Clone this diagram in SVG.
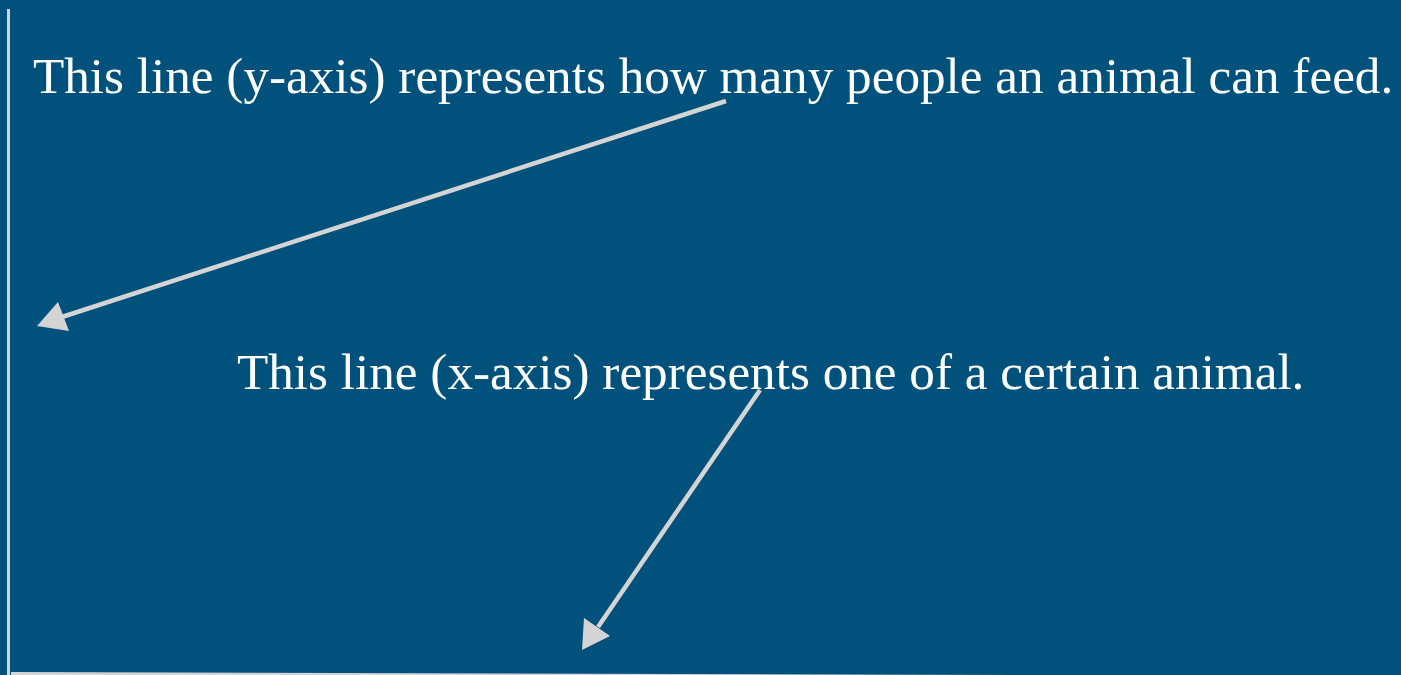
<svg xmlns="http://www.w3.org/2000/svg" width="1401" height="675" viewBox="0 0 1401 675">
<style>
.lbl{font-family:"Liberation Serif","Times New Roman",serif;font-size:51.2px;fill:#ffffff}
.axis{stroke:#d4d4d4;stroke-width:3;fill:none}
.conn{stroke:#d4d4d4;stroke-width:4.5;fill:none}
.head{fill:#d4d4d4}
</style>
<rect width="1401" height="675" fill="#00527c"/>
<g id="axes">
<line class="axis" x1="8.5" y1="9" x2="8.5" y2="675"/>
<line class="axis" x1="11" y1="673.5" x2="1400" y2="677.5"/>
</g>
<g id="label-y">
<text class="lbl" x="33" y="93">This line (y-axis) represents how many people an animal can feed.</text>
</g>
<g id="label-x">
<text class="lbl" x="237" y="389">This line (x-axis) represents one of a certain animal.</text>
</g>
<g id="connectors">
<line class="conn" x1="726" y1="101" x2="62" y2="317"/>
<path class="head" d="M37,326 L58,302 L69,331 z"/>
<line class="conn" x1="760" y1="390" x2="598" y2="627"/>
<path class="head" d="M582,650 L584,618 L610,636 z"/>
</g>
</svg>
